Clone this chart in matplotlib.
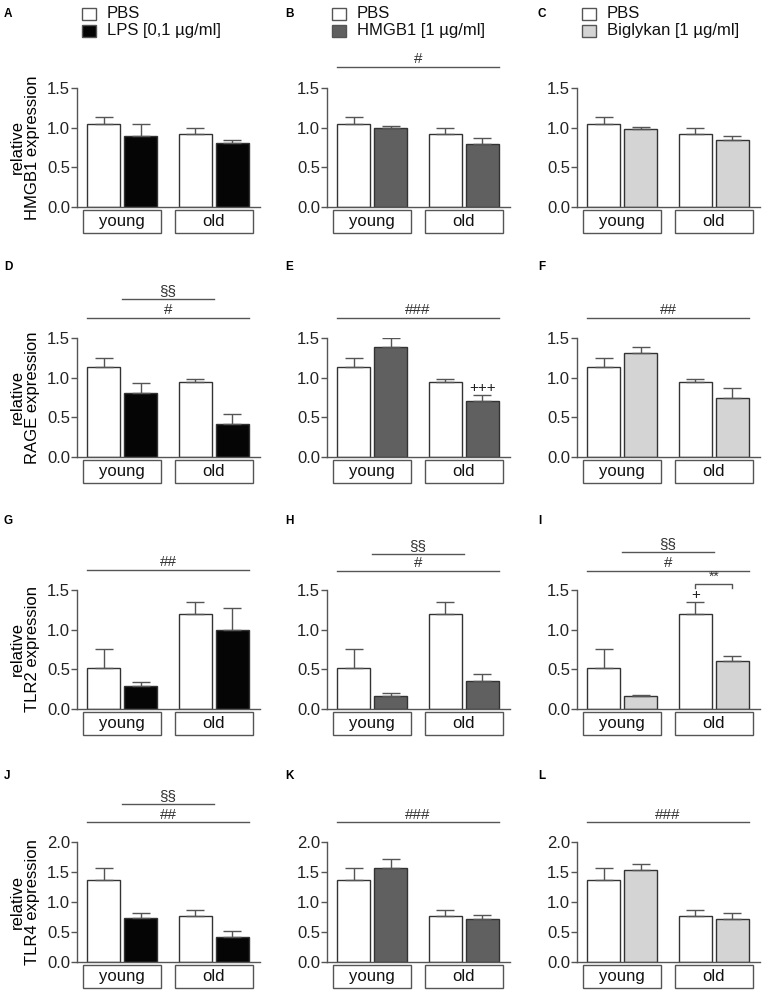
import numpy as np
import matplotlib
matplotlib.use("Agg")
from matplotlib import pyplot as plt
from matplotlib.patches import Rectangle
from matplotlib.transforms import blended_transform_factory

plt.rcParams["font.family"] = ["Liberation Sans", "DejaVu Sans"]

groups = ["young", "old"]
markers = ["HMGB1", "RAGE", "TLR2", "TLR4"]
treatments = ["LPS [0,1 µg/ml]", "HMGB1 [1 µg/ml]", "Biglykan [1 µg/ml]"]
treat_colors = ["#050505", "#606060", "#d4d4d4"]
panel_letters = ["A", "B", "C", "D", "E", "F", "G", "H", "I", "J", "K", "L"]
y_max = [1.5, 1.5, 1.5, 2.0]

# PBS control (young, old) per marker
pbs_mean = [[1.05, 0.92], [1.14, 0.94], [0.52, 1.20], [1.37, 0.77]]
pbs_err = [[0.08, 0.07], [0.11, 0.04], [0.24, 0.15], [0.20, 0.10]]

# treated (young, old): LPS, HMGB1, Biglykan per marker
hmgb1_mean = [[0.90, 0.81], [0.99, 0.79], [0.98, 0.84]]
hmgb1_err = [[0.14, 0.03], [0.03, 0.08], [0.03, 0.06]]
rage_mean = [[0.81, 0.42], [1.39, 0.70], [1.31, 0.75]]
rage_err = [[0.12, 0.12], [0.11, 0.08], [0.08, 0.12]]
tlr2_mean = [[0.29, 0.99], [0.16, 0.35], [0.16, 0.60]]
tlr2_err = [[0.05, 0.28], [0.04, 0.09], [0.02, 0.07]]
tlr4_mean = [[0.73, 0.42], [1.56, 0.71], [1.53, 0.72]]
tlr4_err = [[0.09, 0.10], [0.16, 0.07], [0.10, 0.10]]

treat_mean = [hmgb1_mean, rage_mean, tlr2_mean, tlr4_mean]
treat_err = [hmgb1_err, rage_err, tlr2_err, tlr4_err]

# significance marks: (kind, x0, x1, y, label)
sig = {
    (0, 1): [("line", 0.3, 5.07, 1.77, "#")],
    (1, 0): [("line", 1.33, 4.04, 1.99, "§§"), ("line", 0.3, 5.07, 1.75, "#")],
    (1, 1): [("line", 0.3, 5.07, 1.75, "###"), ("mark", 1, "treat", 0, "+++")],
    (1, 2): [("line", 0.3, 5.07, 1.75, "##")],
    (2, 0): [("line", 0.3, 5.07, 1.75, "##")],
    (2, 1): [("line", 1.33, 4.04, 1.96, "§§"), ("line", 0.3, 5.07, 1.74, "#")],
    (2, 2): [("line", 1.33, 4.04, 1.98, "§§"), ("line", 0.3, 5.07, 1.74, "#"),
             ("bracket", 3.495, 4.585, 1.58, "**"), ("mark", 1, "pbs", 0, "+")],
    (3, 0): [("line", 1.33, 4.04, 2.63, "§§"), ("line", 0.3, 5.07, 2.33, "##")],
    (3, 1): [("line", 0.3, 5.07, 2.33, "###")],
    (3, 2): [("line", 0.3, 5.07, 2.33, "###")],
}

W, H = 764, 992
fig = plt.figure(figsize=(W / 100, H / 100), dpi=100)

zero_y = [207, 457, 709, 962]
top_y = [88, 338, 590, 842]
group_x = np.array([1.33, 4.04])
off = 0.545
bw = 0.98
edge = "#333333"
line_c = "#555555"
fs = 12

for r in range(4):
    for c in range(3):
        h = zero_y[r] - top_y[r]
        ax = fig.add_axes([(77 + 250 * c) / W, 1 - zero_y[r] / H, 183 / W, h / H])
        ax.set_xlim(0, 5.4)
        ax.set_ylim(0, y_max[r])
        for s in ["top", "right"]:
            ax.spines[s].set_visible(False)
        for s in ["left", "bottom"]:
            ax.spines[s].set_color(line_c)
            ax.spines[s].set_linewidth(1)
        ax.set_xticks([])
        ticks = np.arange(0, y_max[r] + 0.01, 0.5)
        ax.set_yticks(ticks)
        ax.set_yticklabels(["%.1f" % v for v in ticks])
        ax.tick_params(axis="y", direction="out", length=4, width=1, color=line_c,
                       labelsize=fs, pad=1, labelcolor="#222222")

        x_pbs = group_x - off
        x_tr = group_x + off
        m_t = treat_mean[r][c]
        e_t = treat_err[r][c]
        ax.bar(x_pbs, pbs_mean[r], width=bw, color="white", edgecolor=edge, linewidth=1, zorder=2)
        ax.bar(x_tr, m_t, width=bw, color=treat_colors[c], edgecolor=edge, linewidth=1, zorder=2)
        ax.errorbar(x_pbs, pbs_mean[r], yerr=[np.zeros(2), pbs_err[r]], fmt="none",
                    ecolor=line_c, elinewidth=1, capsize=6.5, capthick=1, zorder=3)
        ax.errorbar(x_tr, m_t, yerr=[np.zeros(2), e_t], fmt="none",
                    ecolor=line_c, elinewidth=1, capsize=6.5, capthick=1, zorder=3)

        # group boxes below the axis
        tr = blended_transform_factory(ax.transData, ax.transAxes)
        for gi, g in enumerate(groups):
            ax.add_patch(Rectangle((group_x[gi] - 1.16, -26 / h), 2.32, 23 / h, transform=tr,
                                   facecolor="white", edgecolor=line_c, linewidth=1, clip_on=False))
            ax.text(group_x[gi], -14.5 / h, g, transform=tr, ha="center", va="center",
                    fontsize=fs, color="#111111")

        for item in sig.get((r, c), []):
            if item[0] == "line":
                _, x0, x1, y, lab = item
                ax.plot([x0, x1], [y, y], color=line_c, lw=1, clip_on=False)
                ax.annotate(lab, ((x0 + x1) / 2, y), xytext=(0, 0.5), textcoords="offset points",
                            ha="center", va="bottom", fontsize=11, color="#333333", annotation_clip=False)
            elif item[0] == "bracket":
                _, x0, x1, y, lab = item
                ax.plot([x0, x0, x1, x1], [y - 0.05, y, y, y - 0.05], color=line_c, lw=1, clip_on=False)
                ax.annotate(lab, ((x0 + x1) / 2, y), xytext=(0, 0), textcoords="offset points",
                            ha="center", va="bottom", fontsize=10, color="#333333", annotation_clip=False)
            else:
                _, gi, which, _, lab = item
                if which == "pbs":
                    xm, ym = x_pbs[gi], pbs_mean[r][gi] + pbs_err[r][gi]
                else:
                    xm, ym = x_tr[gi], m_t[gi] + e_t[gi]
                ax.annotate(lab, (xm, ym), xytext=(0, 0), textcoords="offset points",
                            ha="center", va="bottom", fontsize=11, color="#222222", annotation_clip=False)

        fig.text([4, 285, 538][c] / W, 1 - [14, 267, 521, 776][r] / H, panel_letters[r * 3 + c],
                 fontsize=8.5, fontweight="bold", ha="left", va="center")

    fig.text(25 / W, 1 - (zero_y[r] + top_y[r]) / 2 / H, "relative\n" + markers[r] + " expression",
             rotation=90, ha="center", va="center", fontsize=fs, linespacing=1.0)

# legends
for c in range(3):
    for k, (lab, col) in enumerate([("PBS", "white"), (treatments[c], treat_colors[c])]):
        yc = [14, 31][k]
        fig.add_artist(Rectangle(((82 + 250 * c) / W, 1 - (yc + 6) / H), 14 / W, 12 / H,
                                 transform=fig.transFigure, facecolor=col, edgecolor=line_c, linewidth=1))
        fig.text((107 + 250 * c) / W, 1 - yc / H, lab, fontsize=fs, ha="left", va="center", color="#111111")

fig.savefig("out.png", dpi=100)
